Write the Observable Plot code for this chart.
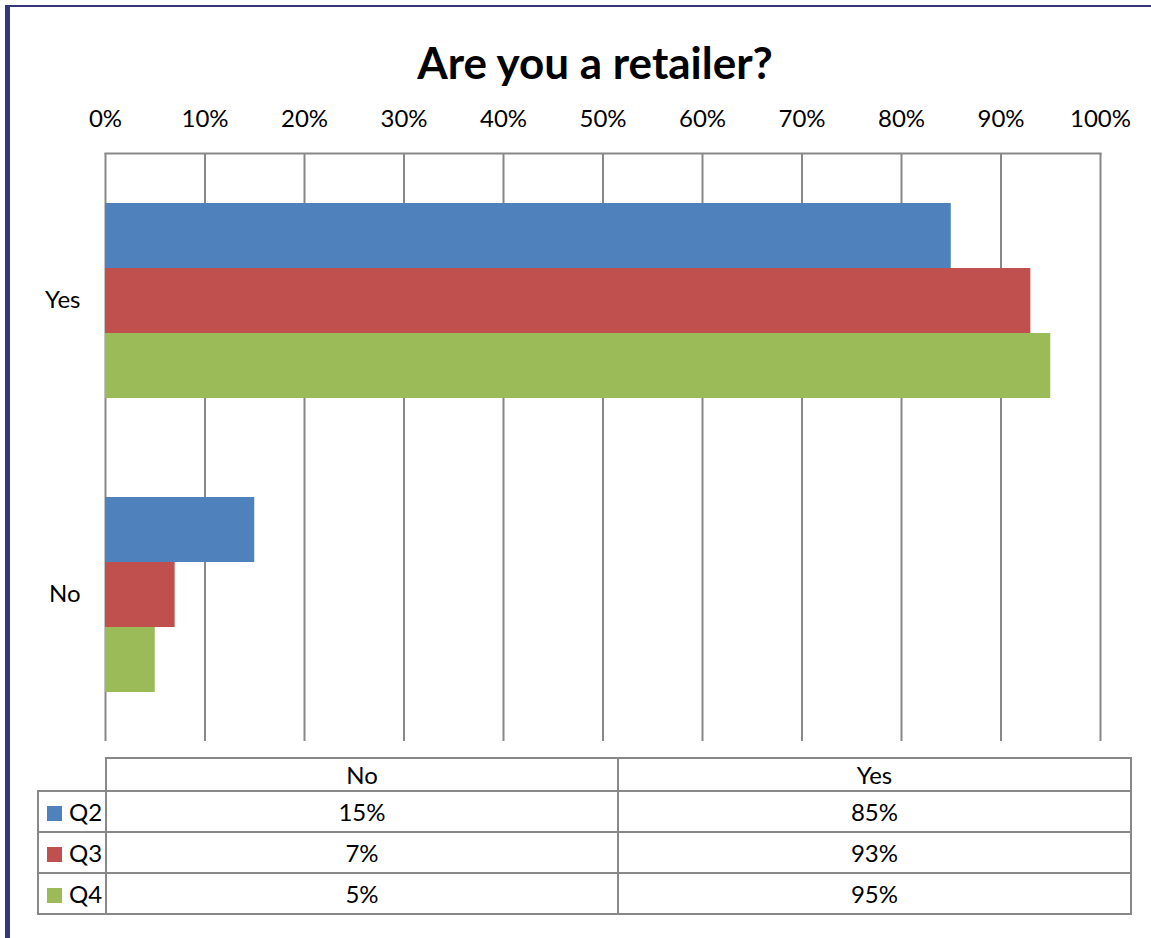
<!DOCTYPE html>
<html>
<head>
<meta charset="utf-8">
<script src="https://cdn.jsdelivr.net/npm/d3@7"></script>
<script src="https://cdn.jsdelivr.net/npm/@observablehq/plot@0.6"></script>
<style>
  html, body { margin: 0; padding: 0; background: #fff; }
  body { width: 1151px; height: 938px; position: relative; overflow: hidden; font-family: Lato, "Open Sans", sans-serif; color: #000; }
  #frame { position: absolute; left: 5px; top: 5px; width: 1160px; height: 960px; border-left: 5px solid #36367a; border-top: 2px solid #36367a; box-sizing: border-box; }
  #title { position: absolute; left: 0; width: 1190px; top: 34px; text-align: center; font-size: 44px; font-weight: bold; line-height: 56px; }
  #chart { position: absolute; left: 0; top: 0; }
  #table { position: absolute; left: 37px; top: 757px; border-collapse: collapse; font-size: 24px; }
  #table td { border: 2px solid #888; text-align: center; padding: 0; line-height: 28px; }
  #table tr.head td { height: 31px; }
  #table tr.body td { height: 39px; }
  #table td.blank { border: none; }
  #table td.leg { text-align: left; padding-left: 8px; white-space: nowrap; }
  .sw { display: inline-block; width: 15px; height: 15px; margin-right: 7px; vertical-align: 0px; }
</style>
</head>
<body>
<div id="frame"></div>
<div id="title">Are you a retailer?</div>
<div id="chart"></div>
<table id="table"></table>
<script>
const categories = ["Yes", "No"];
const series = ["Q2", "Q3", "Q4"];
const yesValues = [85, 93, 95];
const noValues = [15, 7, 5];
const tickValues = [0, 10, 20, 30, 40, 50, 60, 70, 80, 90, 100];
const tickLabels = ["0%", "10%", "20%", "30%", "40%", "50%", "60%", "70%", "80%", "90%", "100%"];
const seriesColors = ["#4f81bd", "#c0504d", "#9bbb59"];
const tableColumns = ["No", "Yes"];

const data = series.flatMap((s, i) => [
  {cat: "Yes", series: s, value: yesValues[i]},
  {cat: "No", series: s, value: noValues[i]}
]);

const plot = Plot.plot({
  width: 1151,
  height: 742,
  marginTop: 153,
  marginBottom: 1,
  marginLeft: 105,
  marginRight: 51,
  style: {fontFamily: "Lato, 'Open Sans', sans-serif", fontSize: "24px", color: "#000", background: "transparent"},
  x: {domain: [0, 100], axis: "top", ticks: tickValues, tickFormat: (d) => tickLabels[tickValues.indexOf(d)], tickSize: 0, tickPadding: 27, label: null},
  fy: {domain: categories, padding: 0, axis: "left", tickSize: 0, tickPadding: 25, label: null},
  y: {domain: series, paddingInner: 0, paddingOuter: 0.76, axis: null},
  color: {domain: series, range: seriesColors},
  marks: [
    Plot.ruleX(tickValues, {stroke: "#888", strokeWidth: 2, strokeOpacity: 1}),
    Plot.frame({anchor: "top", facet: "super", stroke: "#888", strokeWidth: 2}),
    Plot.barX(data, {fy: "cat", y: "series", x: "value", fill: "series"})
  ]
});
document.getElementById("chart").appendChild(plot);

const color = plot.scale("color");
const colorOf = (s) => color.range[color.domain.indexOf(s)];
const table = document.getElementById("table");
let html = '<colgroup><col style="width:68px"><col style="width:512px"><col style="width:513px"></colgroup>';
html += '<tr class="head"><td class="blank"></td>' + tableColumns.map(c => `<td>${c}</td>`).join("") + '</tr>';
series.forEach((s, i) => {
  html += `<tr class="body"><td class="leg"><span class="sw" style="background:${colorOf(s)}"></span>${s}</td><td>${noValues[i]}%</td><td>${yesValues[i]}%</td></tr>`;
});
table.innerHTML = html;
</script>
</body>
</html>
